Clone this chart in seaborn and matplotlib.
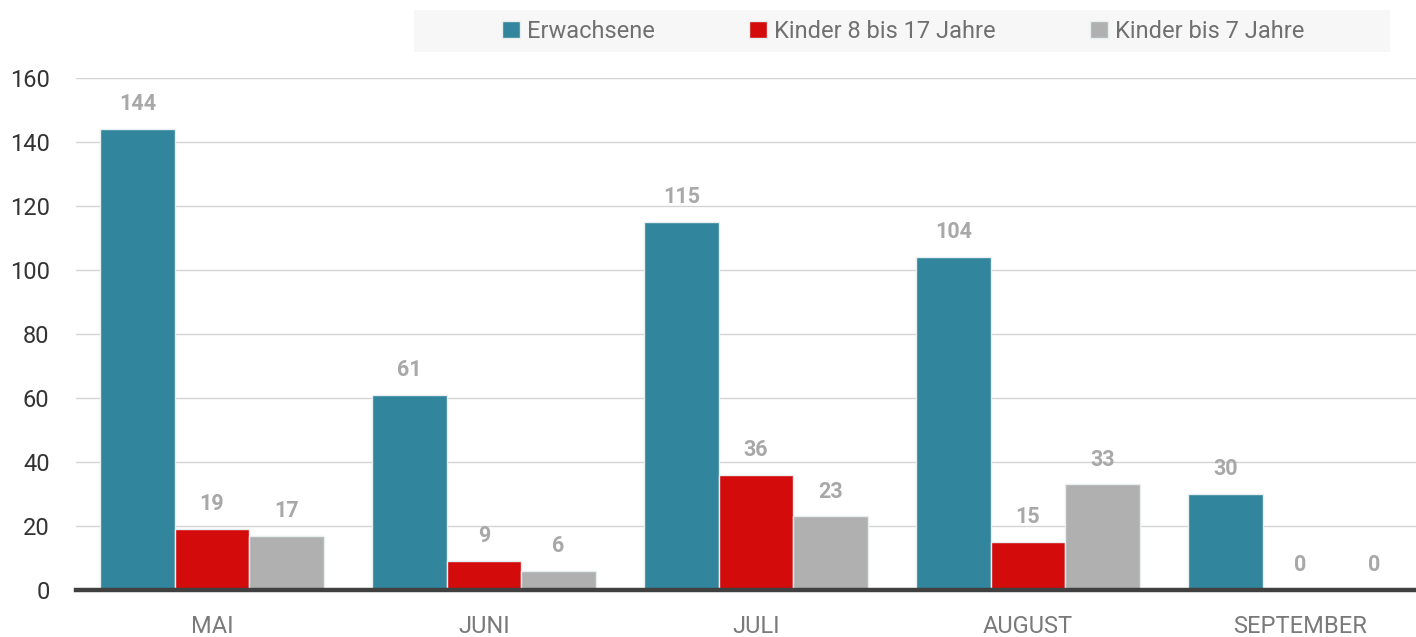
import matplotlib
matplotlib.use("Agg")
import matplotlib.pyplot as plt
from matplotlib.patches import Rectangle
import seaborn as sns
import pandas as pd

months = ["MAI", "JUNI", "JULI", "AUGUST", "SEPTEMBER"]
series_names = ["Erwachsene", "Kinder 8 bis 17 Jahre", "Kinder bis 7 Jahre"]
erwachsene = [144, 61, 115, 104, 30]
kinder_8_17 = [19, 9, 36, 15, 0]
kinder_bis_7 = [17, 6, 23, 33, 0]
y_ticks = [0, 20, 40, 60, 80, 100, 120, 140, 160]
colors = ["#31859c", "#d40b0b", "#b0b0b0"]

rows = []
for name, vals in zip(series_names, [erwachsene, kinder_8_17, kinder_bis_7]):
    for m, v in zip(months, vals):
        rows.append({"Monat": m, "Gruppe": name, "Wert": v})
df = pd.DataFrame(rows)

sns.set_style("white")
plt.rcParams["font.family"] = ["Roboto", "DejaVu Sans"]

W, H = 1416, 637
fig = plt.figure(figsize=(W / 100, H / 100), dpi=100)
left = 76 / W
right = 1436 / W
bottom = (H - 590) / H
top = (H - 78) / H
ax = fig.add_axes([left, bottom, right - left, top - bottom])

sns.barplot(data=df, x="Monat", y="Wert", hue="Gruppe", order=months,
            hue_order=series_names, palette=colors, saturation=1,
            width=0.82, gap=0, edgecolor="#e8eef0", linewidth=1.0, ax=ax,
            errorbar=None)

ax.set_xlim(-0.5, 4.5)
ax.set_ylim(0, 160)
ax.set_yticks(y_ticks)
ax.yaxis.grid(True, color="#d4d4d4", linewidth=1.0)
ax.set_axisbelow(True)
for s in ["top", "right", "left"]:
    ax.spines[s].set_visible(False)
ax.spines["bottom"].set_color("#404040")
ax.spines["bottom"].set_linewidth(3.2)
ax.spines["bottom"].set_zorder(5)
ax.set_xlabel("")
ax.set_ylabel("")
ax.tick_params(axis="y", length=0, pad=19, labelsize=17, labelcolor="#333333")
ax.tick_params(axis="x", length=0, pad=18, labelsize=17, labelcolor="#7a7a7a")

for cont in ax.containers:
    ax.bar_label(cont, padding=10, fontsize=15.5, fontweight="bold", color="#a8a8a8")

handles, labels = ax.get_legend_handles_labels()
ax.legend_.remove()

fig.patches.append(Rectangle((414 / W, 1 - 52 / H), (1390 - 414) / W, 42 / H,
                             transform=fig.transFigure, facecolor="#f7f7f7",
                             edgecolor="none", zorder=0))
fig.legend(handles, labels, loc="center", bbox_to_anchor=(903 / W, 1 - 31 / H),
           ncol=3, frameon=False, fontsize=17, labelcolor="#707070",
           handlelength=0.75, handleheight=0.75, handletextpad=0.3,
           columnspacing=4.0)

fig.savefig("out.png", dpi=100)
